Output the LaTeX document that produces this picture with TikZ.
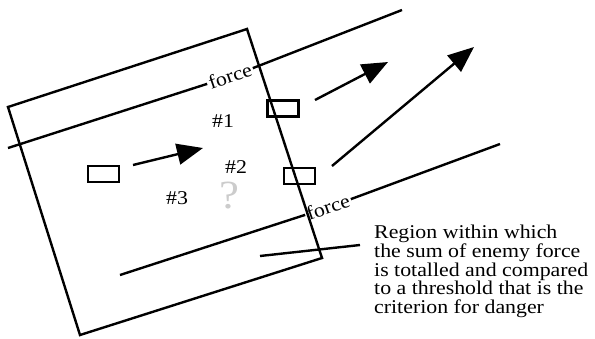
\documentclass[tikz,border=0pt]{standalone}
\usepackage{fontspec}
\setmainfont{Liberation Serif}[FakeStretch=1.12]
\usetikzlibrary{arrows.meta}

\begin{document}
\begin{tikzpicture}[
    x=1pt, y=-1pt,
    line width=2.4pt,
    tag/.style={font=\fontsize{19.5}{18.7}\selectfont, inner sep=0pt},
    forcelabel/.style={font=\fontsize{19.5}{18.7}\selectfont, inner sep=0.5pt, rotate=19},
    unit/.style={draw, minimum width=31pt, minimum height=16pt, inner sep=0pt},
    move/.style={-{Triangle[length=26pt,width=21pt]}},
    ]
    \useasboundingbox (0,0) rectangle (595,338);
    % region in which enemy force is summed
    \coordinate (r1) at (8,107);
    \coordinate (r2) at (247,29);
    \coordinate (r3) at (322,258);
    \coordinate (r4) at (80,335);
    \draw (r1) -- (r2) -- (r3) -- (r4) -- cycle;
    % force lines
    \node[forcelabel] (force1) at (230,76) {force};
    \node[forcelabel] (force2) at (328,207) {force};
    \coordinate (ua) at (8,148);
    \coordinate (ub) at (402,10);
    \coordinate (la) at (120,275);
    \coordinate (lb) at (500,144);
    \draw (ua) -- (force1.west);
    \draw (force1.east) -- (ub);
    \draw (la) -- (force2.west);
    \draw (force2.east) -- (lb);
    % units
    \node[unit] (v1) at (103.5,174) {};
    \node[unit] (v2) at (283,108.5) {};
    \node[unit] (v3) at (299.5,176) {};
    \coordinate (a1s) at (133,165);
    \coordinate (a1t) at (203,148);
    \coordinate (a2s) at (315,100);
    \coordinate (a2t) at (388,62);
    \coordinate (a3s) at (332,166);
    \coordinate (a3t) at (474,47);
    \draw[move] (a1s) -- (a1t);
    \draw[move] (a2s) -- (a2t);
    \draw[move] (a3s) -- (a3t);
    % labels
    \node[tag] (n1) at (223,121) {\#1};
    \node[tag] (n2) at (236,167) {\#2};
    \node[tag] (n3) at (177,198) {\#3};
    \node[font=\fontsize{40}{40}\selectfont, text=gray!40, inner sep=0pt] (q) at (229,196) {?};
    % note
    \node[tag, anchor=north west, align=left] (note) at (373,224)
      {Region within which\\the sum of enemy force\\is totalled and compared\\to a threshold that is the\\criterion for danger};
    \coordinate (pa) at (260,256);
    \draw (pa) -- ([shift={(-13,21)}]note.north west);
\end{tikzpicture}
\end{document}
